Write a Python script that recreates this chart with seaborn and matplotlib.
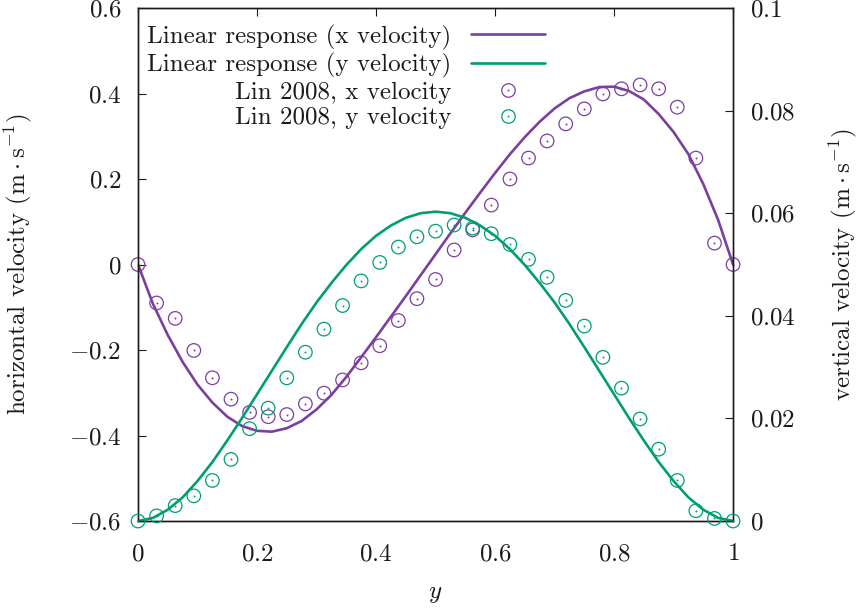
import matplotlib
matplotlib.use("Agg")
import matplotlib.pyplot as plt
import seaborn as sns
from matplotlib.lines import Line2D
from matplotlib.legend_handler import HandlerTuple

# linear response curves, every 0.025 in y
y_line = [0.0, 0.025, 0.05, 0.075, 0.1, 0.125, 0.15, 0.175, 0.2, 0.225,
          0.25, 0.275, 0.3, 0.325, 0.35, 0.375, 0.4, 0.425, 0.45, 0.475,
          0.5, 0.525, 0.55, 0.575, 0.6, 0.625, 0.65, 0.675, 0.7, 0.725,
          0.75, 0.775, 0.8, 0.825, 0.85, 0.875, 0.9, 0.925, 0.95, 0.975, 1.0]
u_line = [0.0, -0.092, -0.165, -0.228, -0.281, -0.323, -0.356, -0.378, -0.389, -0.391,
          -0.383, -0.366, -0.339, -0.305, -0.263, -0.217, -0.170, -0.122, -0.074, -0.025,
          0.024, 0.073, 0.121, 0.168, 0.214, 0.258, 0.298, 0.334, 0.365, 0.389,
          0.405, 0.415, 0.416, 0.406, 0.386, 0.352, 0.310, 0.258, 0.188, 0.104, 0.0]
v_line = [0.0, 0.0006, 0.0022, 0.0046, 0.0078, 0.0115, 0.0157, 0.0201, 0.0247, 0.0293,
          0.0339, 0.0384, 0.0426, 0.0464, 0.0499, 0.0530, 0.0556, 0.0576, 0.0591, 0.0600,
          0.0603, 0.0600, 0.0591, 0.0576, 0.0556, 0.0530, 0.0499, 0.0464, 0.0426, 0.0384,
          0.0339, 0.0293, 0.0247, 0.0201, 0.0157, 0.0115, 0.0078, 0.0046, 0.0022, 0.0006, 0.0]

# Lin 2008 reference points
y_pts = [0.0, 0.03125, 0.0625, 0.09375, 0.125, 0.15625, 0.1875, 0.21875, 0.25,
         0.28125, 0.3125, 0.34375, 0.375, 0.40625, 0.4375, 0.46875, 0.5,
         0.53125, 0.5625, 0.59375, 0.625, 0.65625, 0.6875, 0.71875, 0.75,
         0.78125, 0.8125, 0.84375, 0.875, 0.90625, 0.9375, 0.96875, 1.0]
u_pts = [0.0, -0.090, -0.126, -0.201, -0.265, -0.315, -0.346, -0.356, -0.351,
         -0.326, -0.301, -0.270, -0.230, -0.190, -0.131, -0.080, -0.035,
         0.034, 0.081, 0.139, 0.200, 0.249, 0.289, 0.329, 0.364,
         0.399, 0.411, 0.420, 0.411, 0.368, 0.249, 0.050, 0.0]
v_pts = [0.0, 0.0010, 0.0030, 0.0049, 0.0079, 0.0120, 0.0180, 0.0220, 0.0279,
         0.0329, 0.0374, 0.0420, 0.0468, 0.0504, 0.0534, 0.0554, 0.0565,
         0.0577, 0.0571, 0.0560, 0.0539, 0.0510, 0.0475, 0.0430, 0.0380,
         0.0319, 0.0259, 0.0199, 0.0140, 0.0079, 0.0020, 0.0005, 0.0]

labels = ["Linear response (x velocity)", "Linear response (y velocity)",
          "Lin 2008, x velocity", "Lin 2008, y velocity"]

x_ticks = [0, 0.2, 0.4, 0.6, 0.8, 1.0]
x_ticklabels = ["$0$", "$0.2$", "$0.4$", "$0.6$", "$0.8$", "$1$"]
u_ticks = [-0.6, -0.4, -0.2, 0, 0.2, 0.4, 0.6]
u_ticklabels = ["$-0.6$", "$-0.4$", "$-0.2$", "$0$", "$0.2$", "$0.4$", "$0.6$"]
v_ticks = [0, 0.02, 0.04, 0.06, 0.08, 0.1]
v_ticklabels = ["$0$", "$0.02$", "$0.04$", "$0.06$", "$0.08$", "$0.1$"]

PURPLE = "#7b3f9e"
GREEN = "#009e73"
FS = 18

sns.set_theme(style="white")
plt.rcParams["font.family"] = ["cmr10"]
plt.rcParams["mathtext.fontset"] = "cm"
plt.rcParams["axes.formatter.use_mathtext"] = True
for key in ["text.color", "axes.labelcolor", "xtick.color", "ytick.color", "axes.edgecolor"]:
    plt.rcParams[key] = "#1a1a1a"

fig = plt.figure(figsize=(8.6, 6.11), dpi=100)
ax = fig.add_axes([0.1605, 0.1473, 0.6919, 0.8396])
ax2 = ax.twinx()

sns.lineplot(x=y_line, y=u_line, ax=ax, color=PURPLE, lw=1.9, legend=False)
sns.scatterplot(x=y_pts, y=u_pts, ax=ax, marker="o", s=95, facecolors="none",
                edgecolors=PURPLE, linewidth=0.9, clip_on=False, zorder=3, legend=False)
sns.scatterplot(x=y_pts, y=u_pts, ax=ax, marker="o", s=2, color=PURPLE,
                linewidth=0, clip_on=False, zorder=3, legend=False)

sns.lineplot(x=y_line, y=v_line, ax=ax2, color=GREEN, lw=1.9, legend=False)
sns.scatterplot(x=y_pts, y=v_pts, ax=ax2, marker="o", s=95, facecolors="none",
                edgecolors=GREEN, linewidth=0.9, clip_on=False, zorder=3, legend=False)
sns.scatterplot(x=y_pts, y=v_pts, ax=ax2, marker="o", s=2, color=GREEN,
                linewidth=0, clip_on=False, zorder=3, legend=False)

ax.set_xlim(0, 1)
ax.set_ylim(-0.6, 0.6)
ax2.set_ylim(0, 0.1)
ax.set_xticks(x_ticks, x_ticklabels)
ax.set_yticks(u_ticks, u_ticklabels)
ax2.set_yticks(v_ticks, v_ticklabels)

ax.tick_params(axis="both", direction="in", length=6, width=0.8, labelsize=FS)
ax.tick_params(axis="x", top=True, pad=16)
ax.tick_params(axis="y", right=False, pad=12)
ax2.tick_params(axis="y", direction="in", length=6, width=0.8, labelsize=FS, pad=12)
for a in (ax, ax2):
    for sp in a.spines.values():
        sp.set_linewidth(1.0)
        sp.set_color("#1a1a1a")

ax.set_xlabel("$y$", fontsize=FS)
ax.set_ylabel(r"horizontal velocity $(\mathrm{m}\cdot\mathrm{s}^{-1})$", fontsize=FS)
ax2.set_ylabel(r"vertical velocity $(\mathrm{m}\cdot\mathrm{s}^{-1})$", fontsize=FS)
ax.xaxis.set_label_coords(0.5, -0.12)
ax.yaxis.set_label_coords(-0.175, 0.5)
ax2.yaxis.set_label_coords(1.158, 0.5)

handles = [
    Line2D([], [], color=PURPLE, lw=1.9),
    Line2D([], [], color=GREEN, lw=1.9),
    (Line2D([], [], ls="none", marker="o", ms=9.7, mfc="none", mec=PURPLE, mew=0.9),
     Line2D([], [], ls="none", marker="o", ms=1.4, mfc=PURPLE, mec="none")),
    (Line2D([], [], ls="none", marker="o", ms=9.7, mfc="none", mec=GREEN, mew=0.9),
     Line2D([], [], ls="none", marker="o", ms=1.4, mfc=GREEN, mec="none")),
]
ax2.legend(handles, labels, handler_map={tuple: HandlerTuple(ndivide=1)},
           loc="upper left", bbox_to_anchor=(0.015, 0.968), frameon=False,
           markerfirst=False, fontsize=FS, handlelength=2.95, handletextpad=0.8,
           labelspacing=0.13, borderpad=0, borderaxespad=0)

fig.savefig("out.png", dpi=100)
